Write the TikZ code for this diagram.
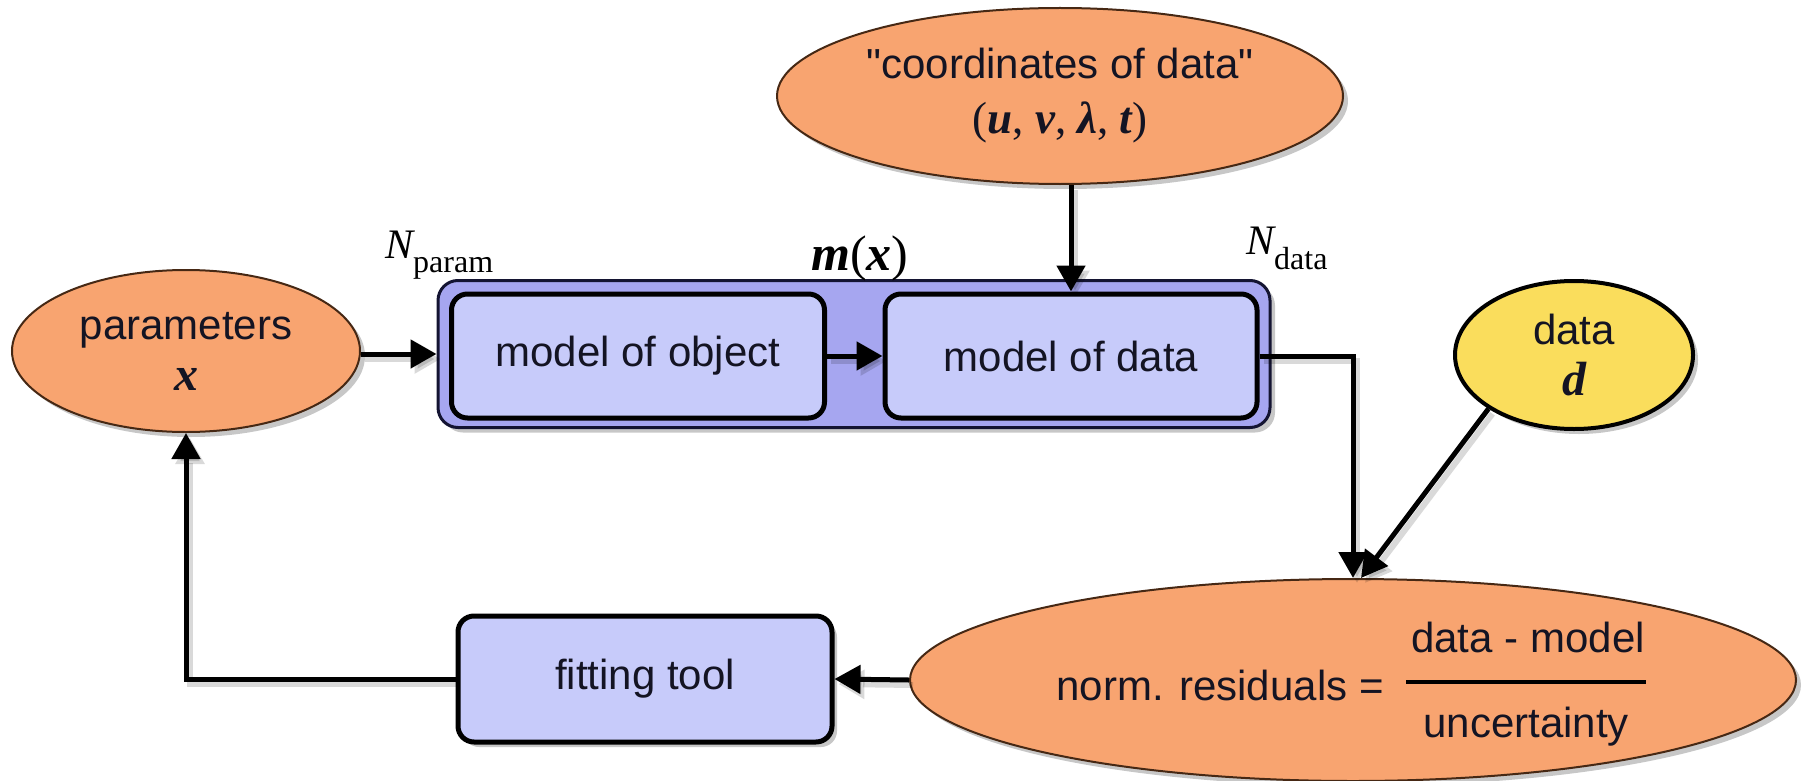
\documentclass[tikz,border=0pt]{standalone}
\usepackage{fontspec}
\setmainfont{Liberation Sans}[Ligatures=TeXOff]
\newfontfamily\tms{Liberation Serif}
\usetikzlibrary{arrows.meta,shapes.geometric,shadows,calc}
\definecolor{orangefill}{RGB}{248,164,112}
\definecolor{yellowfill}{RGB}{250,221,92}
\definecolor{innerblue}{RGB}{199,203,250}
\definecolor{outerblue}{RGB}{166,166,240}
\definecolor{ellbrown}{RGB}{70,40,20}
\definecolor{navyline}{RGB}{20,20,50}
\definecolor{textdark}{RGB}{20,20,35}
\newcommand{\bi}[1]{{\tms\bfseries\itshape #1}}
\newcommand{\rmt}[1]{{\tms #1}}
\begin{document}
\begin{tikzpicture}[x=1pt,y=-1pt,
  txt/.style={font=\fontsize{42}{53}\selectfont, text=textdark},
  shad/.style={drop shadow={shadow xshift=5pt, shadow yshift=-5pt, fill=black, opacity=0.22}},
  ell/.style={ellipse, draw=ellbrown, line width=2pt, fill=orangefill, inner sep=0pt, shad, txt, align=center},
  yell/.style={ellipse, draw=black, line width=4pt, fill=yellowfill, inner sep=0pt, shad, txt, align=center},
  ibox/.style={rectangle, rounded corners=16pt, draw=black, line width=5pt, fill=innerblue, inner sep=0pt, txt},
  obox/.style={rectangle, rounded corners=20pt, draw=navyline, line width=3pt, fill=outerblue, inner sep=0pt, shad},
  lshad/.style={preaction={draw=black, opacity=0.15, line width=6pt, transform canvas={shift={(4pt,-5pt)}}}},
  arr/.style={lshad, line width=5pt, draw=black, -{Triangle[length=26pt,width=28pt]}},
  lab/.style={inner sep=0pt, text=black}
]
\useasboundingbox (0,0) rectangle (1806,781);

% ellipses
\node[ell, minimum width=348pt, minimum height=162pt] (params) at (186,351)
  {parameters\\[-2pt]{\fontsize{48}{53}\selectfont\bi{x}}};
\node[ell, minimum width=566pt, minimum height=176pt] (coords) at (1060,96)
  {"coordinates of data"\\[2pt]{\fontsize{45}{53}\selectfont\rmt{(}\bi{u}\rmt{, }\bi{v}\rmt{, }\bi{λ}\rmt{, }\bi{t}\rmt{)}}};
\node[yell, minimum width=238pt, minimum height=148pt] (dataell) at (1574,355)
  {data\\[-2pt]{\fontsize{48}{53}\selectfont\bi{d}}};
\node[ell, minimum width=886pt, minimum height=202pt] (norm) at (1353,680) {};

% boxes
\node[obox, minimum width=832pt, minimum height=147pt] (mbox) at (854,354) {};
\node[ibox, minimum width=373pt, minimum height=124pt] (obj) at (638,356) {model of object};
\node[ibox, minimum width=372pt, minimum height=124pt] (mdata) at (1071,356) {model of data};
\node[ibox, shad, minimum width=374pt, minimum height=126pt] (fit) at (645,679) {fitting tool};

% labels
\node[lab, anchor=base west] (npar) at (385,258)
  {{\tms\fontsize{42}{44}\selectfont\itshape N}\raisebox{-14pt}{\tms\fontsize{32}{34}\selectfont param}};
\node[lab, anchor=base west] (ndat) at (1246,254)
  {{\tms\fontsize{42}{44}\selectfont\itshape N}\raisebox{-15pt}{\tms\fontsize{32}{34}\selectfont data}};
\node[lab] (mx) at (860,258)
  {\fontsize{50}{52}\selectfont\bi{m}\rmt{(}\bi{x}\rmt{)}};

% norm residual text
\node[txt, inner sep=0pt, anchor=base] (normtxt) at (1220,700) {norm. residuals =};
\node[txt, inner sep=0pt, anchor=base] (num) at (1528,652) {data - model};
\node[txt, inner sep=0pt, anchor=base] (den) at (1526,737) {uncertainty};
\coordinate (fl1) at (1406,682);
\coordinate (fl2) at (1646,682);
\draw[line width=4pt, black] (fl1) -- (fl2);

% connectors
\draw[arr] (params.east |- mbox.west) -- (mbox.west);
\draw[arr] (obj.east) -- (mdata.west);
\draw[arr] (mdata.north |- coords.south) -- (mdata.north);
\draw[arr] (mdata.east) -| (norm.north);
\draw[arr] (dataell.south west) -- ([xshift=8pt]norm.north);
\draw[arr] (norm.west) -- (fit.east);
\draw[arr] (fit.west) -| (params.south);
\end{tikzpicture}
\end{document}
